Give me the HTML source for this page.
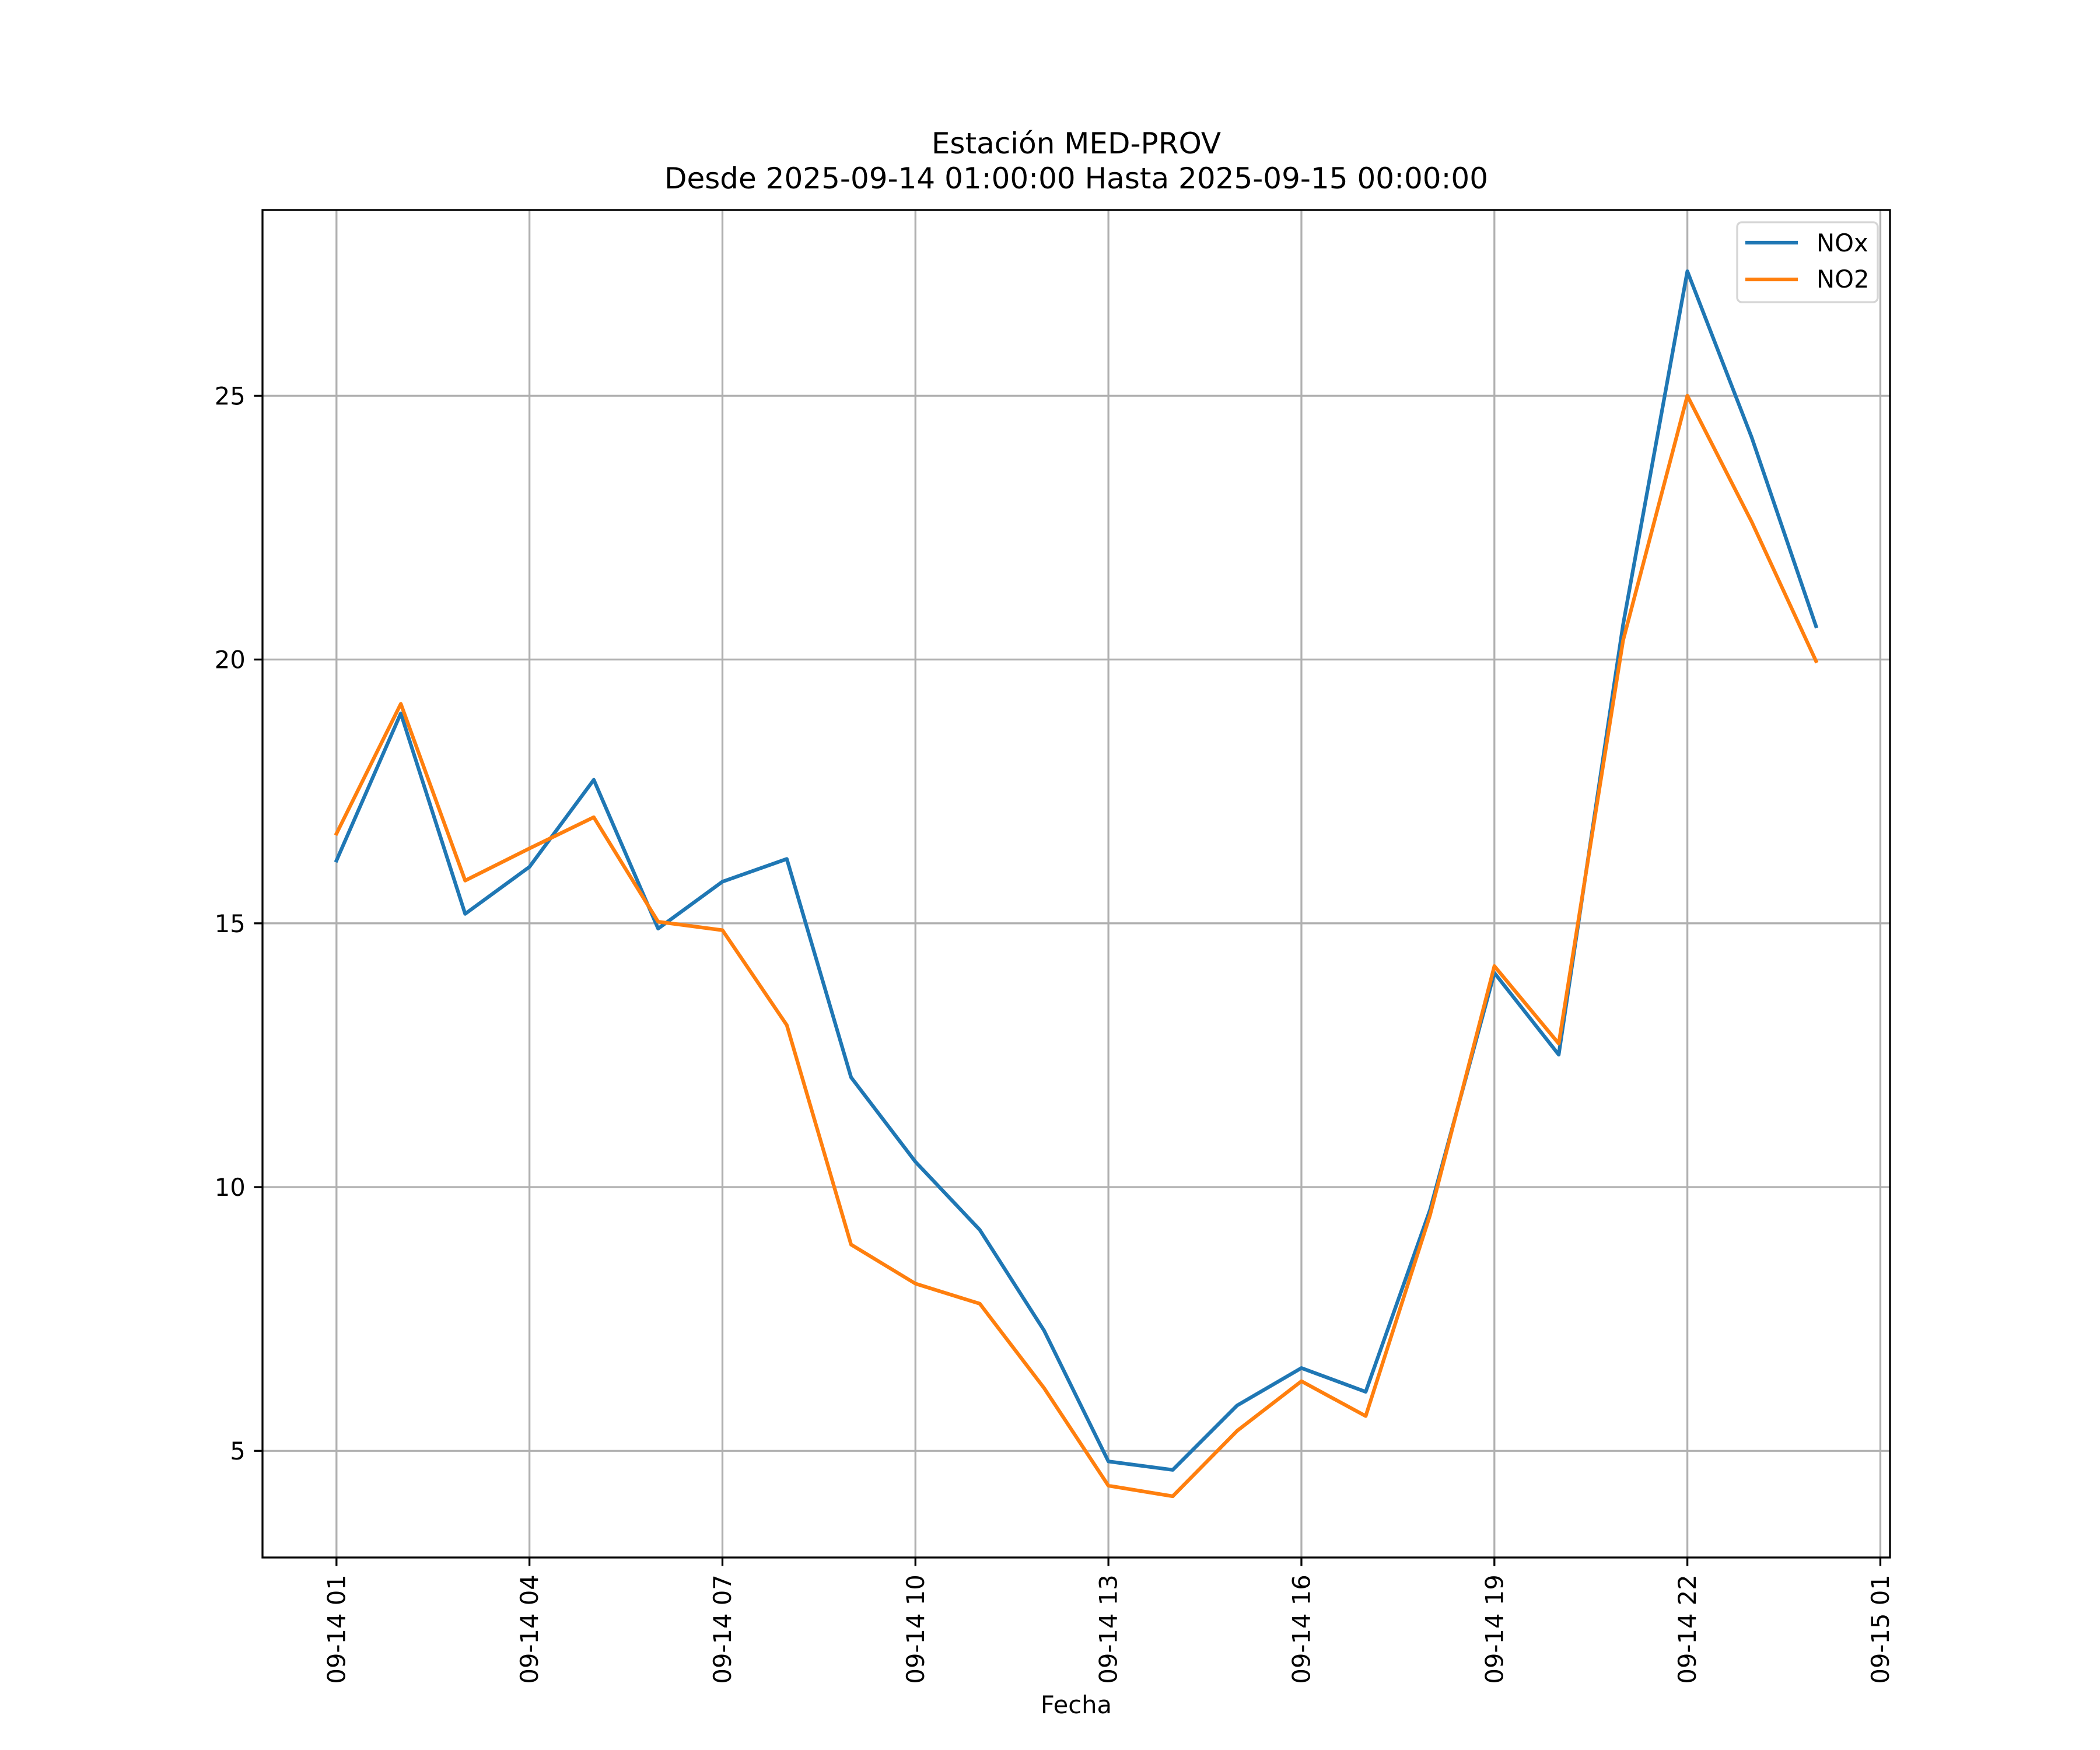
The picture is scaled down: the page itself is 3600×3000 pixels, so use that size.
<!DOCTYPE html>
<html><head><meta charset="utf-8"><style>
html,body{margin:0;padding:0;background:#fff;}
svg{display:block;font-family:"DejaVu Sans","Liberation Sans",sans-serif;}
</style></head><body>
<svg id="chart" width="3600" height="3000" viewBox="0 0 3600 3000" xmlns="http://www.w3.org/2000/svg">
<rect width="3600" height="3000" fill="#fff"/>
<g id="grid"></g>
<g id="series"></g>
<rect x="450" y="360" width="2790" height="2310" fill="none" stroke="#000" stroke-width="3.3"/>
<g id="ticks"></g>
<text x="1845" y="263" font-size="50" text-anchor="middle">Estación MED-PROV</text>
<text x="1845" y="323" font-size="50" text-anchor="middle">Desde 2025-09-14 01:00:00 Hasta 2025-09-15 00:00:00</text>
<text x="1845" y="2937" font-size="41.7" text-anchor="middle">Fecha</text>
<g>
<rect x="2978" y="381" width="241" height="137" rx="8" fill="#fff" fill-opacity="0.8" stroke="#d5d5d5" stroke-width="3.3"/>
<line x1="2992" y1="416" x2="3082" y2="416" stroke="#1f77b4" stroke-width="6.25"/>
<text x="3114" y="431" font-size="41.7">NOx</text>
<line x1="2992" y1="479" x2="3082" y2="479" stroke="#ff7f0e" stroke-width="6.25"/>
<text x="3114" y="493" font-size="41.7">NO2</text>
</g>
</svg>
<script>
const hours = [1,2,3,4,5,6,7,8,9,10,11,12,13,14,15,16,17,18,19,20,21,22,23,24];
const noxValues = [16.19,18.98,15.18,16.07,17.72,14.90,15.79,16.22,12.08,10.48,9.19,7.28,4.80,4.64,5.86,6.57,6.12,9.57,14.06,12.51,20.66,27.36,24.21,20.63];
const no2Values = [16.70,19.16,15.81,16.42,17.01,15.03,14.87,13.07,8.91,8.17,7.79,6.19,4.34,4.14,5.38,6.32,5.66,9.47,14.19,12.72,20.36,25.0,22.61,19.97];
const xTickHours = [1,4,7,10,13,16,19,22,25];
const xTickLabels = ["09-14 01","09-14 04","09-14 07","09-14 10","09-14 13","09-14 16","09-14 19","09-14 22","09-15 01"];
const yTicks = [5,10,15,20,25];

const NS="http://www.w3.org/2000/svg";
const L=450,R=3240,T=360,B=2670;
const allV=noxValues.concat(no2Values);
const vmin=Math.min(...allV), vmax=Math.max(...allV);
const ym=(vmax-vmin)*0.05, y0=vmin-ym, y1=vmax+ym;
const hmin=Math.min(...hours), hmax=Math.max(...hours);
const xm=(hmax-hmin)*0.05, x0=hmin-xm, x1=hmax+xm;
function xs(h){return L+(h-x0)/(x1-x0)*(R-L);}
function ys(v){return B-(v-y0)/(y1-y0)*(B-T);}
function mk(tag,attrs,parent){const e=document.createElementNS(NS,tag);for(const k in attrs)e.setAttribute(k,attrs[k]);parent.appendChild(e);return e;}
const grid=document.getElementById('grid'),ticks=document.getElementById('ticks'),series=document.getElementById('series');
xTickHours.forEach((h,i)=>{
  const x=xs(h);
  const g=mk('line',{x1:x,x2:x,y1:T,y2:B,stroke:'#b0b0b0','stroke-width':3.3},grid);
  
  
  const t=mk('line',{x1:x,x2:x,y1:B,y2:B+14.6,stroke:'#000','stroke-width':3.3},ticks);
  
  
  const tx=mk('text',{x:0,y:0,'font-size':41.7,'text-anchor':'end',transform:`translate(${x+14.5},${B+29.2}) rotate(-90)`},ticks);
  tx.textContent=xTickLabels[i];
  
  
});
yTicks.forEach(v=>{
  const y=ys(v);
  const g=mk('line',{x1:L,x2:R,y1:y,y2:y,stroke:'#b0b0b0','stroke-width':3.3},grid);
  
  
  const t=mk('line',{x1:L-14.6,x2:L,y1:y,y2:y,stroke:'#000','stroke-width':3.3},ticks);
  
  
  const tx=mk('text',{x:L-29.2,y:y+15,'font-size':41.7,'text-anchor':'end'},ticks);
  tx.textContent=String(v);
  
  
});
function drawLine(vals,color,name){
  const pts=vals.map((v,i)=>xs(hours[i]).toFixed(1)+','+ys(v).toFixed(1)).join(' ');
  const p=mk('polyline',{points:pts,fill:'none',stroke:color,'stroke-width':6.25,'stroke-linejoin':'round','stroke-linecap':'square'},series);
  
  
}
drawLine(noxValues,'#1f77b4','nox-line');
drawLine(no2Values,'#ff7f0e','no2-line');
</script>
</body></html>
